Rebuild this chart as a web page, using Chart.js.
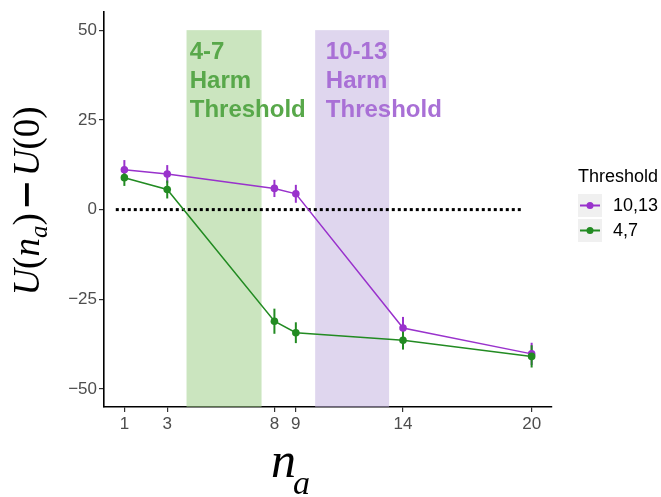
<!DOCTYPE html>
<html>
<head>
<meta charset="utf-8">
<script src="https://cdn.jsdelivr.net/npm/chart.js@4"></script>
<style>
  html, body { margin:0; padding:0; background:#fff; }
  #wrap { width:661px; height:497px; }
</style>
</head>
<body>
<div id="wrap"><canvas id="utilChart" width="661" height="497"></canvas></div>
<script>
// data
const nA = [1, 3, 8, 9, 14, 20];
const u1013 = [11.1, 9.9, 5.9, 4.4, -33.0, -40.2];
const err1013 = [2.7, 2.5, 2.4, 2.5, 3.1, 3.1];
const u47 = [8.9, 5.6, -31.1, -34.3, -36.4, -40.9];
const err47 = [2.3, 2.5, 3.5, 2.9, 2.6, 3.1];
const xTicks = [1, 3, 8, 9, 14, 20];
const yTicks = [-50, -25, 0, 25, 50];
const bandFrom = [3.9, 9.9];
const bandTo = [7.4, 13.35];
const bandTop = 50;
const bandText = [['4-7', 'Harm', 'Threshold'], ['10-13', 'Harm', 'Threshold']];
const bandTextX = [4.05, 10.4];
const zeroFrom = 0.6, zeroTo = 19.6;
const seriesNames = ['10,13', '4,7'];

const PURPLE = '#9932cc', GREEN = '#228b22';
const SANS = '"Liberation Sans", Arial, Helvetica, sans-serif';
const SERIF = '"Liberation Serif", "Times New Roman", serif';

function toPts(xs, ys) {
    let out = [];
    for (let i = 0; i < xs.length; i++) out.push({x: xs[i], y: ys[i]});
    return out;
}

const extras = {
    id: 'extras',
    beforeDatasetsDraw(chart) {
        const ctx = chart.ctx, x = chart.scales.x, y = chart.scales.y, a = chart.chartArea;
        ctx.save();
        // threshold bands
        const fills = ['rgba(160,208,138,0.55)', 'rgba(196,180,224,0.55)'];
        const txtCol = ['#58a84a', '#a970d6'];
        for (let i = 0; i < bandFrom.length; i++) {
            let l = x.getPixelForValue(bandFrom[i]), r = x.getPixelForValue(bandTo[i]);
            let t = y.getPixelForValue(bandTop);
            ctx.fillStyle = fills[i];
            ctx.fillRect(l, t, r - l, a.bottom - t);
        }
        for (let i = 0; i < bandText.length; i++) {
            ctx.fillStyle = txtCol[i];
            ctx.font = 'bold 24px ' + SANS;
            ctx.textAlign = 'left';
            ctx.textBaseline = 'alphabetic';
            let tx = x.getPixelForValue(bandTextX[i]);
            let ty = y.getPixelForValue(42);
            bandText[i].forEach(function (s, k) { ctx.fillText(s, tx, ty + k * 29); });
        }
        // dotted zero line
        ctx.strokeStyle = '#000';
        ctx.lineWidth = 3;
        ctx.setLineDash([3, 3]);
        ctx.beginPath();
        ctx.moveTo(x.getPixelForValue(zeroFrom), y.getPixelForValue(0));
        ctx.lineTo(x.getPixelForValue(zeroTo), y.getPixelForValue(0));
        ctx.stroke();
        ctx.setLineDash([]);
        // error bars
        const sets = [[u1013, err1013, PURPLE], [u47, err47, GREEN]];
        sets.forEach(function (s) {
            ctx.strokeStyle = s[2];
            ctx.lineWidth = 2;
            for (let i = 0; i < nA.length; i++) {
                let px = x.getPixelForValue(nA[i]);
                ctx.beginPath();
                ctx.moveTo(px, y.getPixelForValue(s[0][i] - s[1][i]));
                ctx.lineTo(px, y.getPixelForValue(s[0][i] + s[1][i]));
                ctx.stroke();
            }
        });
        ctx.restore();
    },
    afterDraw(chart) {
        const ctx = chart.ctx;
        ctx.save();
        // legend
        ctx.fillStyle = '#000';
        ctx.font = '18px ' + SANS;
        ctx.textAlign = 'left';
        ctx.textBaseline = 'alphabetic';
        ctx.fillText('Threshold', 578, 182);
        const cols = [PURPLE, GREEN];
        for (let i = 0; i < 2; i++) {
            let top = 194 + i * 25;
            ctx.fillStyle = '#f0f0f0';
            ctx.fillRect(578, top, 24, 23);
            let cy = top + 11.5;
            ctx.strokeStyle = cols[i];
            ctx.lineWidth = 2;
            ctx.beginPath(); ctx.moveTo(580, cy); ctx.lineTo(600, cy); ctx.stroke();
            ctx.fillStyle = cols[i];
            ctx.beginPath(); ctx.arc(590, cy, 3.5, 0, Math.PI * 2); ctx.fill();
            ctx.fillStyle = '#000';
            ctx.font = '18px ' + SANS;
            ctx.textBaseline = 'middle';
            ctx.fillText(seriesNames[i], 613, cy + 1);
        }
        // x title: n_a
        ctx.textBaseline = 'alphabetic';
        ctx.fillStyle = '#000';
        ctx.font = 'italic 50px ' + SERIF;
        ctx.fillText('n', 271, 477);
        let nw = ctx.measureText('n').width;
        ctx.font = 'italic 34px ' + SERIF;
        ctx.fillText('a', 271 + nw - 3, 494);
        // y title: U(n_a) - U(0), minus drawn as a bar
        ctx.translate(39, 201);
        ctx.rotate(-Math.PI / 2);
        const main = 37, sub = 25;
        const parts = [
            ['U', 'italic', main, 0], ['(', '', main, 0], ['n', 'italic', main, 0],
            ['a', 'italic', sub, 8], [')', '', main, 0], ['-', 'bar', 0, 0],
            ['U', 'italic', main, 0], ['(', '', main, 0], ['0', '', main, 0], [')', '', main, 0]
        ];
        let total = 0;
        parts.forEach(function (p) {
            if (p[1] === 'bar') { p.push(37); }
            else {
                ctx.font = (p[1] ? p[1] + ' ' : '') + p[2] + 'px ' + SERIF;
                p.push(ctx.measureText(p[0]).width);
            }
            total += p[4];
        });
        let cx = -total / 2;
        parts.forEach(function (p) {
            if (p[1] === 'bar') {
                ctx.fillRect(cx + 7, -14, 23, 3.8);
            } else {
                ctx.font = (p[1] ? p[1] + ' ' : '') + p[2] + 'px ' + SERIF;
                ctx.fillText(p[0], cx, p[3]);
            }
            cx += p[4];
        });
        ctx.restore();
    }
};

let ctxEl = document.getElementById('utilChart');
let utilChart = new Chart(ctxEl, {
    type: 'line',
    data: {
        datasets: [
            {
                label: seriesNames[1],
                data: toPts(nA, u47),
                borderColor: GREEN,
                backgroundColor: GREEN,
                borderWidth: 1.5,
                pointRadius: 3.8,
                pointBorderWidth: 0,
                tension: 0,
                order: 1
            },
            {
                label: seriesNames[0],
                data: toPts(nA, u1013),
                borderColor: PURPLE,
                backgroundColor: PURPLE,
                borderWidth: 1.5,
                pointRadius: 3.8,
                pointBorderWidth: 0,
                tension: 0,
                order: 2
            }
        ]
    },
    options: {
        responsive: false,
        animation: false,
        events: [],
        layout: { padding: { left: 0, top: 8, right: 109, bottom: 0 } },
        plugins: { legend: { display: false }, tooltip: { enabled: false } },
        scales: {
            x: {
                type: 'linear',
                min: 0.05,
                max: 20.95,
                afterBuildTicks: function (s) { s.ticks = xTicks.map(function (v) { return {value: v}; }); },
                afterFit: function (s) { s.height = 90; },
                grid: { drawOnChartArea: false, drawTicks: true, tickLength: 5, color: '#333', lineWidth: 1.2 },
                border: { display: true, color: '#000', width: 1.6 },
                ticks: { color: '#4d4d4d', font: { family: SANS, size: 17 }, padding: 2, maxRotation: 0, autoSkip: false }
            },
            y: {
                type: 'linear',
                min: -55,
                max: 55,
                afterBuildTicks: function (s) { s.ticks = yTicks.map(function (v) { return {value: v}; }); },
                afterFit: function (s) { s.width = 104; },
                grid: { drawOnChartArea: false, drawTicks: true, tickLength: 5, color: '#333', lineWidth: 1.2 },
                border: { display: true, color: '#000', width: 1.6 },
                ticks: {
                    color: '#4d4d4d', font: { family: SANS, size: 17 }, padding: 2,
                    callback: function (v) { return v < 0 ? '\u2212' + Math.abs(v) : String(v); }
                }
            }
        }
    },
    plugins: [extras]
});
</script>
</body>
</html>
